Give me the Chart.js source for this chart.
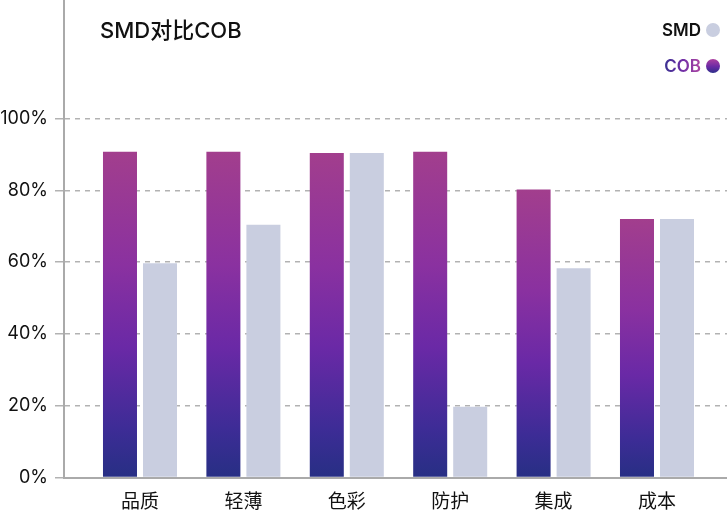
<!DOCTYPE html>
<html>
<head>
<meta charset="utf-8">
<script src="https://cdn.jsdelivr.net/npm/chart.js@4/dist/chart.umd.min.js"></script>
<style>
  html, body { margin: 0; padding: 0; background: #ffffff; }
  #wrap { position: relative; width: 727px; height: 515px; }
</style>
</head>
<body>
<div id="wrap"><canvas id="c" width="727" height="515"></canvas></div>
<script>
// ---- data ----
const categories = ['品质', '轻薄', '色彩', '防护', '集成', '成本'];
const cobValues = [90.7, 90.7, 90.4, 90.7, 80.2, 72.0];
const smdValues = [59.7, 70.4, 90.4, 19.7, 58.3, 72.0];
const seriesNames = ['COB', 'SMD'];
const yTickValues = [0, 20, 40, 60, 80, 100];
const chartTitle = 'SMD对比COB';

const FONT = "Inter, 'Noto Sans CJK SC', sans-serif";

function cobGradient(context) {
  const chart = context.chart;
  const yScale = chart.scales && chart.scales.y;
  if (!yScale || !chart.chartArea || context.type !== 'data') return '#7a2ba0';
  const top = yScale.getPixelForValue(context.raw.y);
  const base = yScale.getPixelForValue(0);
  const g = chart.ctx.createLinearGradient(0, top, 0, base);
  g.addColorStop(0, '#a23e8d');
  g.addColorStop(0.35, '#8a31a0');
  g.addColorStop(0.6, '#6a29a6');
  g.addColorStop(0.85, '#3d2c96');
  g.addColorStop(1, '#272f84');
  return g;
}

const overlayPlugin = {
  id: 'overlay',
  afterDraw(chart) {
    const ctx = chart.ctx;
    ctx.save();
    // title
    ctx.font = '500 22px ' + FONT;
    ctx.fillStyle = '#111111';
    ctx.textAlign = 'left';
    ctx.textBaseline = 'middle';
    ctx.fillText(chartTitle, 100, 31);

    // legend (SMD first, then COB)
    const items = chart.data.datasets.slice().reverse();
    ctx.font = '600 17px ' + FONT;
    ctx.textAlign = 'right';
    items.forEach((ds, i) => {
      const cy = 30 + i * 36;
      const cx = 713, r = 7;
      let textFill, dotFill;
      if (ds.label === 'COB') {
        const tg = ctx.createLinearGradient(663, 0, 700, 0);
        tg.addColorStop(0, '#35318f');
        tg.addColorStop(0.5, '#6d2ea6');
        tg.addColorStop(1, '#ab45a2');
        textFill = tg;
        const dg = ctx.createLinearGradient(0, cy - r, 0, cy + r);
        dg.addColorStop(0, '#ad40a0');
        dg.addColorStop(0.55, '#6a2aa5');
        dg.addColorStop(1, '#2d2f8a');
        dotFill = dg;
      } else {
        textFill = '#111111';
        dotFill = ds.backgroundColor;
      }
      ctx.fillStyle = textFill;
      ctx.fillText(ds.label, 701, cy + 1);
      ctx.beginPath();
      ctx.arc(cx, cy, r, 0, Math.PI * 2);
      ctx.fillStyle = dotFill;
      ctx.fill();
    });
    ctx.restore();
  }
};

const chart = new Chart(document.getElementById('c'), {
  type: 'bar',
  data: {
    datasets: [
      {
        label: seriesNames[0],
        data: cobValues.map((v, i) => ({ x: i, y: v })),
        backgroundColor: cobGradient,
        borderWidth: 0
      },
      {
        label: seriesNames[1],
        data: smdValues.map((v, i) => ({ x: i, y: v })),
        backgroundColor: '#c9cee0',
        borderWidth: 0
      }
    ]
  },
  options: {
    responsive: false,
    animation: false,
    devicePixelRatio: 1,
    categoryPercentage: 0.774,
    barPercentage: 0.85,
    layout: { padding: { top: 0, right: 0, bottom: 0, left: 0 } },
    plugins: {
      legend: { display: false },
      title: { display: false },
      tooltip: { enabled: false }
    },
    scales: {
      x: {
        type: 'linear',
        offset: false,
        min: -0.735,
        max: 5.677,
        z: 1,
        afterBuildTicks: (scale) => { scale.ticks = categories.map((_, i) => ({ value: i })); },
        afterFit: (scale) => {
          scale.height = 37.5;
          scale.paddingLeft = 0; scale.paddingRight = 0;
        },
        grid: { display: false, drawTicks: false },
        border: { display: true, color: '#aaaaaa', width: 2 },
        ticks: {
          autoSkip: false,
          maxRotation: 0,
          padding: 13,
          color: '#111111',
          font: { family: FONT, size: 19 },
          callback: (v) => categories[v]
        }
      },
      y: {
        min: 0,
        max: 133,
        z: 1,
        afterBuildTicks: (scale) => { scale.ticks = yTickValues.map(v => ({ value: v })); },
        afterFit: (scale) => {
          scale.width = 64;
          scale.paddingTop = 0; scale.paddingBottom = 0;
        },
        grid: {
          display: true,
          color: 'rgba(0,0,0,0.3)',
          lineWidth: 1.5,
          drawTicks: true,
          tickLength: 9,
          tickColor: 'rgba(0,0,0,0.3)',
          tickWidth: 1.5
        },
        border: { display: true, color: '#aaaaaa', width: 2, dash: [5, 5] },
        ticks: {
          padding: 7,
          color: '#111111',
          font: { family: FONT, size: 18 },
          callback: (v) => v + '%'
        }
      }
    }
  },
  plugins: [overlayPlugin]
});
</script>
</body>
</html>
